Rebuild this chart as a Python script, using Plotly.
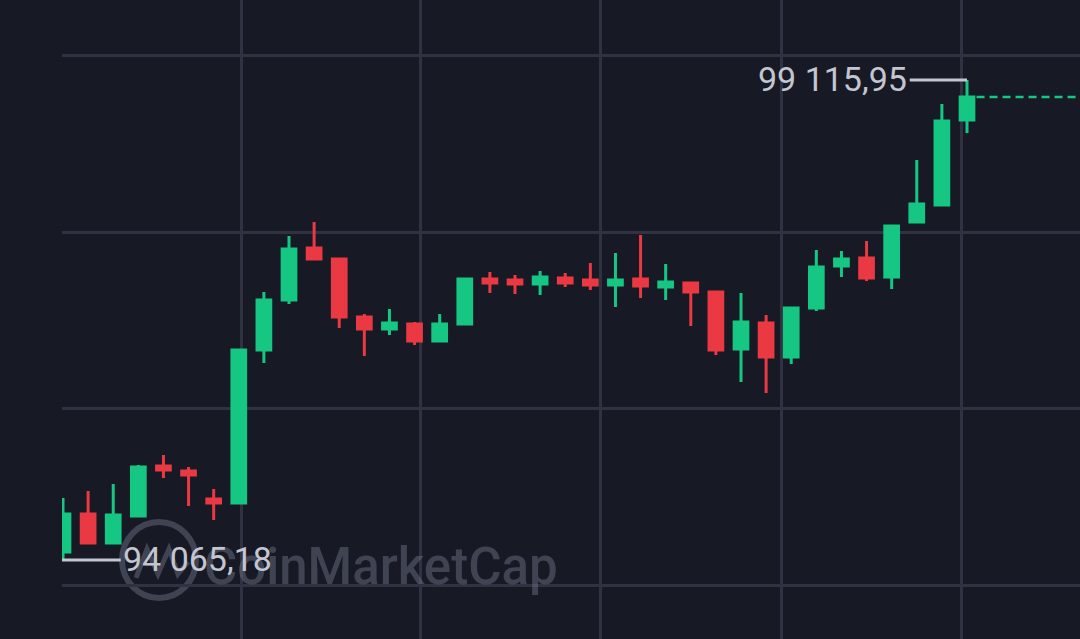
import plotly.graph_objects as go

# ---- data ----
idx = list(range(37))
open_ = [94149.4, 94549.2, 94244.1, 94528.2, 95054.3, 95001.7, 94707.1, 94665.0, 96274.9, 96801.0,
         97348.2, 97232.4, 96622.1, 96495.9, 96548.5, 96369.6, 96548.5, 97022.0, 97011.5, 96969.4,
         97032.5, 97011.5, 96958.9, 97022.0, 96937.8, 96979.9, 96885.2, 96285.4, 96559.0, 96201.2,
         96716.8, 97158.8, 97243.0, 97043.0, 97621.8, 97800.7, 98695.1]
high = [94717.6, 94791.2, 94864.9, 95064.8, 95170.0, 95043.8, 94812.3, 96285.4, 96885.2, 97474.5,
        97621.8, 97243.0, 96653.7, 96706.3, 96569.5, 96653.7, 97032.5, 97095.7, 97064.1, 97106.2,
        97085.1, 97190.4, 97295.6, 97485.0, 97179.8, 96990.4, 96895.7, 96874.7, 96643.2, 96727.4,
        97327.1, 97316.6, 97421.8, 97590.2, 98274.2, 98863.4, 99115.95]
low = [94065.18, 94238.0, 94233.6, 94517.7, 94928.0, 94633.4, 94486.1, 94660.0, 96138.1, 96758.9,
       97232.4, 96506.4, 96211.8, 96432.7, 96327.5, 96359.1, 96538.0, 96874.7, 96864.2, 96853.6,
       96937.8, 96906.2, 96727.4, 96822.1, 96801.0, 96527.4, 96222.3, 95938.2, 95822.4, 96127.6,
       96685.3, 97043.0, 97001.0, 96916.8, 97611.2, 97790.1, 98558.3]
close = [94549.2, 94244.1, 94538.7, 95043.8, 95012.2, 94959.6, 94665.0, 96274.9, 96801.0, 97337.7,
         97232.4, 96622.1, 96495.9, 96559.0, 96369.6, 96548.5, 97022.0, 96979.9, 96969.4, 97043.0,
         96979.9, 96958.9, 97011.5, 96948.3, 96990.4, 96885.2, 96274.9, 96569.5, 96201.2, 96716.8,
         97148.3, 97232.4, 97032.5, 97579.7, 97811.2, 98684.5, 98937.1]

x_grid = [7.1, 14.24, 21.42, 28.6, 35.78]
y_grid = [99379.0, 97516.5, 95664.6, 93802.1]
max_label = "99 115,95"
min_label = "94 065,18"

BG = "#171A25"
GRID = "#303241"
GREEN = "#16C784"
RED = "#EA3943"
LABEL = "#C3C6D0"
WM = "rgba(120,125,145,0.42)"
X_RANGE = [-0.04, 40.5]
Y_RANGE = [93233.9, 99957.7]

fig = go.Figure(go.Candlestick(
    x=idx, open=open_, high=high, low=low, close=close,
    increasing=dict(line=dict(color=GREEN, width=3), fillcolor=GREEN),
    decreasing=dict(line=dict(color=RED, width=3), fillcolor=RED),
    whiskerwidth=0, hoverinfo="skip",
))

# Helper for decorative watermark placement in pixel terms
W, H, L = 1080, 639, 62
def px(xp):
    return (xp - L) / (W - L)
def py(yp):
    return 1 - yp / H

shapes = []
# watermark logo
shapes.append(dict(type="circle", xref="paper", yref="paper",
                   x0=px(122), x1=px(196), y0=py(598), y1=py(522),
                   line=dict(color=WM, width=6), layer="below"))
wave = [(136, 578), (147, 549), (158, 574), (169, 549), (178, 574), (188, 562)]
path = "M " + " L ".join(f"{px(a):.4f},{py(b):.4f}" for a, b in wave)
shapes.append(dict(type="path", xref="paper", yref="paper", path=path,
                   line=dict(color=WM, width=5), layer="below"))

# max / min connector lines
imax = high.index(max(high))
imin = low.index(min(low))
shapes.append(dict(type="line", xref="x", yref="y", x0=imax - 2.28, x1=imax,
                   y0=max(high), y1=max(high), line=dict(color=LABEL, width=3)))
shapes.append(dict(type="line", xref="x", yref="y", x0=imin - 0.04, x1=imin + 2.3,
                   y0=min(low), y1=min(low), line=dict(color=LABEL, width=3)))
# last close dashed line
shapes.append(dict(type="line", xref="x", yref="y", x0=len(idx) - 1 + 0.38, x1=X_RANGE[1],
                   y0=close[-1], y1=close[-1], line=dict(color=GREEN, width=2.5, dash="8px,5px")))

annotations = [
    dict(xref="paper", yref="paper", x=px(202), y=py(566), xanchor="left", yanchor="middle",
         text="CoinMarketCap", showarrow=False,
         font=dict(family="Roboto", size=51, color=WM, weight=500)),
    dict(xref="x", yref="y", x=imax - 2.32, y=max(high), xanchor="right", yanchor="middle",
         text=max_label, showarrow=False, yshift=1,
         font=dict(family="Roboto", size=34, color=LABEL)),
    dict(xref="x", yref="y", x=imin + 2.3, y=min(low), xanchor="left", yanchor="middle",
         text=min_label, showarrow=False, yshift=1,
         font=dict(family="Roboto", size=34, color=LABEL)),
]

fig.update_layout(
    width=W, height=H,
    margin=dict(l=L, r=0, t=0, b=0),
    paper_bgcolor=BG, plot_bgcolor=BG,
    showlegend=False,
    shapes=shapes, annotations=annotations,
    boxgap=0.22,
    xaxis=dict(range=X_RANGE, tickvals=x_grid, showticklabels=False, showgrid=True,
               gridcolor=GRID, gridwidth=3, zeroline=False, showline=False,
               rangeslider=dict(visible=False), fixedrange=True, ticks=""),
    yaxis=dict(range=Y_RANGE, tickvals=y_grid, showticklabels=False, showgrid=True,
               gridcolor=GRID, gridwidth=3, zeroline=False, showline=False, fixedrange=True,
               ticks=""),
)

fig.write_html(
    "out.html",
    config={"displayModeBar": False},
    post_script="document.body.style.margin='0';document.body.style.background='" + BG + "';",
)
